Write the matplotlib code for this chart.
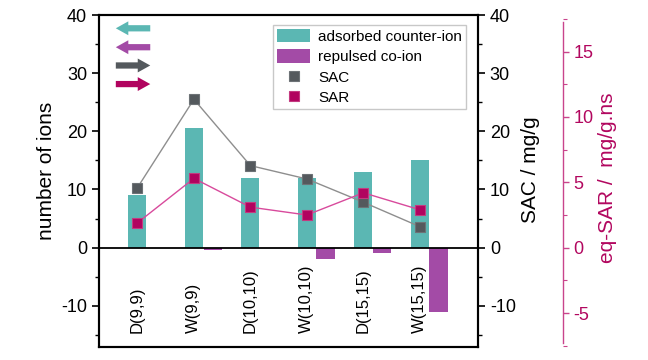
import matplotlib.pyplot as plt
import numpy as np
from matplotlib.ticker import MultipleLocator

plt.rcParams['font.family'] = ['Liberation Sans', 'DejaVu Sans']
plt.rcParams['axes.unicode_minus'] = False

categories = ['D(9,9)', 'W(9,9)', 'D(10,10)', 'W(10,10)', 'D(15,15)', 'W(15,15)']
adsorbed = [9.0, 20.5, 12.0, 12.0, 13.0, 15.0]
repulsed = [0.0, -0.5, 0.0, -1.9, -0.9, -11.0]
sac = [10.3, 25.5, 14.1, 11.8, 7.8, 3.6]
sar = [1.9, 5.3, 3.1, 2.5, 4.2, 2.9]

teal = '#5bb7b3'
purple = '#a34ba6'
gray_mk = '#54595d'
gray_ln = '#8e8e8e'
mag_mk = '#b1035f'
mag_ln = '#d84a9c'
pink_ax = '#c9448c'
pink_txt = '#b2075f'

x = np.arange(len(categories))
w = 0.32

fig = plt.figure(figsize=(6.48, 3.6), dpi=100)
ax = fig.add_axes([0.1528, 0.0361, 0.5849, 0.9222])
ax2 = ax.twinx()
ax3 = ax.twinx()

b1 = ax.bar(x, adsorbed, w, color=teal, label='adsorbed counter-ion', zorder=2)
b2 = ax.bar(x + 0.33, repulsed, w, color=purple, label='repulsed co-ion', zorder=2)
ax.axhline(0, color='black', lw=1.3, zorder=3)

ax.set_xlim(-0.68, 6.03)
ax.set_ylim(-17.1, 40)
ax.yaxis.set_major_locator(MultipleLocator(10))
ax.yaxis.set_minor_locator(MultipleLocator(5))
ax.set_xticks([])
ax.tick_params(axis='y', which='major', labelsize=13, length=5, width=1.2)
ax.tick_params(axis='y', which='minor', length=3, width=1.0)
ax.set_ylabel('number of ions', fontsize=15)
ax.yaxis.set_label_coords(-0.113, 0.53)
for s in ax.spines.values():
    s.set_linewidth(1.5)

for i, c in enumerate(categories):
    ax.text(x[i], -14.7, c, rotation=90, ha='center', va='bottom', fontsize=12)

# arrows showing which axis each series belongs to
arrows = [(teal, -1), (purple, -1), (gray_mk, 1), (mag_mk, 1)]
ays = [0.96, 0.903, 0.848, 0.792]
for (col, d), yy in zip(arrows, ays):
    x0, x1 = (0.1425, 0.037) if d < 0 else (0.037, 0.1425)
    ax.annotate('', xy=(x1, yy), xytext=(x0, yy), xycoords='axes fraction',
                arrowprops=dict(arrowstyle='simple,head_length=0.9,head_width=1.0,tail_width=0.45',
                                color=col, lw=0))

l2, = ax2.plot(x, sac, color=gray_ln, lw=1, marker='s', ms=7.5, mfc=gray_mk,
               mec='#6d7276', mew=0.8, zorder=4)
ax2.set_ylim(-17.1, 40)
ax2.yaxis.set_major_locator(MultipleLocator(10))
ax2.yaxis.set_minor_locator(MultipleLocator(5))
ax2.tick_params(axis='y', which='major', labelsize=13, length=5, width=1.2)
ax2.tick_params(axis='y', which='minor', length=3, width=1.0)
ax2.set_ylabel('SAC / mg/g', fontsize=15)
ax2.yaxis.set_label_coords(1.114, 0.535)
for s in ax2.spines.values():
    s.set_linewidth(1.5)

l3, = ax3.plot(x, sar, color=mag_ln, lw=1, marker='s', ms=7.5, mfc=mag_mk,
               mec='#c33a80', mew=0.8, zorder=4)
ax3.spines['right'].set_position(('axes', 1.225))
ax3.spines['right'].set_color(pink_ax)
ax3.spines['right'].set_linewidth(1.0)
ax3.spines['right'].set_bounds(-7.3, 17.3)
for k in ['top', 'bottom', 'left']:
    ax3.spines[k].set_visible(False)
ax3.set_ylim(-7.6, 17.8)
ax3.yaxis.set_minor_locator(MultipleLocator(2.5))
ax3.set_yticks([-5, 0, 5, 10, 15])
ax3.tick_params(axis='y', which='major', colors=pink_ax, labelcolor=pink_txt,
                labelsize=13, length=4, width=1.0)
ax3.tick_params(axis='y', which='minor', colors=pink_ax, length=3, width=0.8)
ax3.set_ylabel('eq-SAR /  mg/g.ns', fontsize=15, color=pink_txt)
ax3.yaxis.set_label_coords(1.317, 0.51)

ax3.legend([b1, b2, l2, l3], ['adsorbed counter-ion', 'repulsed co-ion', 'SAC', 'SAR'],
           loc='upper left', bbox_to_anchor=(0.459, 0.97), borderaxespad=0,
           fontsize=11, frameon=True, fancybox=False, edgecolor='#c8c8c8', framealpha=1,
           handlelength=2.2, handleheight=1.0, labelspacing=0.35, borderpad=0.25,
           handletextpad=0.5)
for h in ax3.get_legend().get_lines():
    h.set_linestyle('')

fig.savefig('out.png', dpi=100)
